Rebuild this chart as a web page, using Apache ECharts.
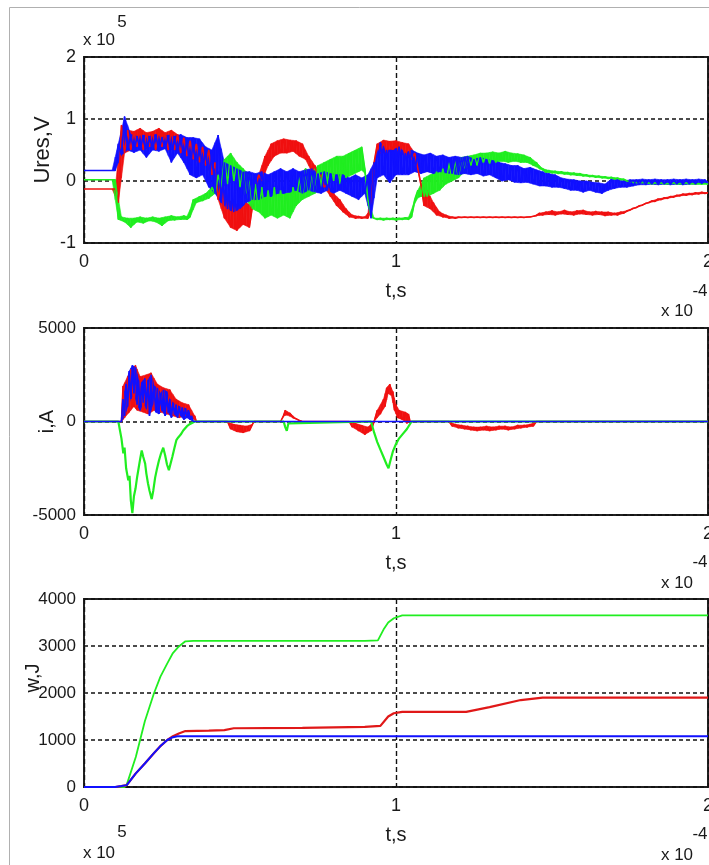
<!DOCTYPE html>
<html>
<head>
<meta charset="utf-8">
<script src="https://cdn.jsdelivr.net/npm/echarts@6/dist/echarts.min.js"></script>
<style>
html,body{margin:0;padding:0;background:#fff;}
#c{width:709px;height:865px;}
</style>
</head>
<body>
<div id="c"></div>
<script>
// ---- data (time in units of 1e-4 s) ----
const tStep = 0.01; // sampling step of the Ures traces
const xTickLabels = ['0', '1', '2'];
const uresTickLabels = ['-1', '0', '1', '2'];
const iTickLabels = ['-5000', '0', '5000'];
const wTickLabels = ['0', '1000', '2000', '3000', '4000'];

// Ures, x 1e5 V, sampled every tStep
const uresRed = [-0.13,-0.13,-0.13,-0.13,-0.13,-0.13,-0.13,-0.13,-0.13,-0.13,-0.13,
-0.35,0.9,0.45,0.82,0.5,0.8,0.55,0.85,0.5,0.78,
0.55,0.8,0.5,0.85,0.55,0.78,0.5,0.82,0.5,0.75,
0.45,0.7,0.4,0.65,0.35,0.6,0.3,0.55,0.25,0.5,
0.1,0.3,-0.3,0.0,-0.6,-0.3,-0.75,-0.35,-0.8,-0.4,
-0.7,-0.35,-0.75,-0.4,-0.1,0.1,0.0,0.4,0.25,0.6,
0.4,0.65,0.45,0.68,0.45,0.66,0.48,0.65,0.4,0.6,
0.35,0.4,0.15,0.25,0.05,0.1,-0.1,-0.05,-0.25,-0.2,
-0.4,-0.3,-0.5,-0.45,-0.58,-0.55,-0.6,-0.57,-0.6,-0.58,
-0.6,-0.45,0.3,0.6,0.45,0.66,0.45,0.64,0.5,0.65,
0.45,0.62,0.4,0.6,0.35,0.45,0.2,-0.05,-0.4,-0.15,
-0.45,-0.35,-0.55,-0.5,-0.58,-0.55,-0.6,-0.58,-0.6,-0.58,
-0.59,-0.58,-0.59,-0.58,-0.59,-0.58,-0.59,-0.58,-0.59,-0.58,
-0.59,-0.58,-0.59,-0.58,-0.59,-0.58,-0.59,-0.58,-0.59,-0.58,
-0.59,-0.58,-0.58,-0.57,-0.56,-0.52,-0.55,-0.5,-0.54,-0.48,
-0.55,-0.5,-0.53,-0.47,-0.54,-0.5,-0.55,-0.48,-0.53,-0.47,
-0.54,-0.5,-0.55,-0.49,-0.54,-0.5,-0.56,-0.5,-0.55,-0.52,
-0.55,-0.5,-0.52,-0.48,-0.47,-0.44,-0.43,-0.4,-0.39,-0.36,
-0.35,-0.32,-0.33,-0.29,-0.3,-0.27,-0.28,-0.25,-0.26,-0.23,
-0.24,-0.21,-0.23,-0.2,-0.22,-0.19,-0.21,-0.18,-0.2,-0.19];

const uresGreen = [0.02,0.02,0.02,0.02,0.02,0.02,0.02,0.02,0.02,0.02,0.02,
-0.62,-0.58,-0.66,-0.6,-0.75,-0.6,-0.66,-0.58,-0.68,-0.6,
-0.64,-0.58,-0.66,-0.6,-0.72,-0.58,-0.64,-0.56,-0.63,-0.58,
-0.62,-0.56,-0.62,-0.58,-0.3,-0.35,-0.25,-0.32,-0.2,-0.28,
-0.1,-0.2,0.1,-0.1,0.35,-0.05,0.45,0.0,0.3,-0.1,
0.2,-0.3,0.1,-0.45,-0.05,-0.5,-0.1,-0.6,-0.15,-0.55,
-0.1,-0.6,-0.15,-0.55,-0.2,-0.6,-0.1,-0.4,0.1,-0.3,
0.2,-0.25,0.15,-0.2,0.25,-0.1,0.3,-0.05,0.35,0.0,
0.4,-0.05,0.4,0.05,0.45,0.1,0.5,0.15,0.55,0.2,
-0.3,-0.58,-0.6,-0.62,-0.6,-0.63,-0.6,-0.62,-0.6,-0.63,
-0.6,-0.62,-0.59,-0.62,-0.58,-0.3,-0.15,-0.25,0.05,-0.25,
0.1,-0.2,0.15,-0.15,0.2,-0.05,0.3,0.0,0.35,0.05,
0.38,0.15,0.4,0.25,0.42,0.25,0.45,0.3,0.45,0.28,
0.47,0.3,0.45,0.32,0.48,0.3,0.45,0.32,0.44,0.3,
0.42,0.3,0.38,0.25,0.3,0.2,0.2,0.14,0.17,0.13,
0.16,0.12,0.15,0.11,0.14,0.1,0.13,0.09,0.12,0.08,
0.1,0.07,0.09,0.06,0.08,0.05,0.07,0.04,0.06,0.03,
0.05,0.02,0.03,0.0,-0.01,-0.03,-0.02,-0.04,-0.02,-0.04,
-0.03,-0.05,-0.03,-0.05,-0.03,-0.05,-0.04,-0.05,-0.03,-0.05,
-0.04,-0.05,-0.03,-0.05,-0.04,-0.05,-0.04,-0.05,-0.04,-0.05];

const uresBlue = [0.17,0.17,0.17,0.17,0.17,0.17,0.17,0.17,0.17,0.17,0.17,
0.6,0.42,1.04,0.5,0.75,0.46,0.72,0.5,0.74,0.38,
0.72,0.5,0.75,0.48,0.7,0.52,0.74,0.3,0.72,0.45,
0.75,0.3,0.7,0.1,0.7,0.05,0.68,0.1,0.55,-0.1,
0.5,-0.2,0.74,-0.35,0.3,-0.45,0.25,-0.5,0.2,-0.45,
0.15,-0.35,0.15,-0.3,0.12,-0.3,0.15,-0.25,0.1,-0.25,
0.15,-0.2,0.2,-0.2,0.15,-0.18,0.2,-0.15,0.15,-0.2,
0.18,-0.15,0.2,-0.18,0.12,-0.2,0.15,-0.15,0.12,-0.2,
0.1,-0.15,0.1,-0.2,0.05,-0.25,0.1,-0.3,0.05,-0.2,
0.1,-0.6,0.3,0.05,0.62,0.1,0.5,-0.03,0.5,0.1,
0.55,0.1,0.45,0.1,0.5,0.15,0.45,0.12,0.42,0.15,
0.45,0.12,0.4,0.15,0.42,0.13,0.38,0.12,0.4,0.1,
0.38,0.12,0.4,0.1,0.35,0.12,0.38,0.08,0.35,0.1,
0.33,0.05,0.3,0.0,0.28,0.02,0.25,-0.02,0.25,-0.03,
0.2,-0.02,0.22,-0.05,0.18,-0.08,0.15,-0.08,0.12,-0.1,
0.1,-0.1,0.05,-0.12,0.03,-0.15,0.02,-0.15,0.0,-0.18,
0.0,-0.15,-0.02,-0.18,-0.03,-0.2,-0.05,-0.15,0.03,-0.12,
0.02,-0.1,0.0,-0.1,0.02,-0.08,0.02,-0.06,0.03,-0.06,
0.02,-0.05,0.03,-0.06,0.02,-0.05,0.02,-0.06,0.03,-0.05,
0.02,-0.06,0.03,-0.05,0.02,-0.05,0.03,-0.04,0.02,-0.03];

// current i, A : [t, value]
const iRed = [[0,0],[0.12,0],[0.125,1900],[0.13,200],[0.14,2400],[0.145,500],[0.15,2800],[0.16,800],[0.165,3000],[0.17,600],[0.18,2400],[0.19,500],[0.2,2500],[0.205,400],[0.215,2600],[0.225,600],[0.235,2000],[0.245,500],[0.255,1800],[0.265,400],[0.275,1700],[0.285,300],[0.295,1200],[0.305,200],[0.315,1000],[0.325,300],[0.335,900],[0.345,200],[0.355,300],[0.36,0],
[0.46,0],[0.47,-400],[0.48,-150],[0.49,-550],[0.5,-200],[0.51,-600],[0.52,-250],[0.53,-500],[0.54,-150],[0.545,0],
[0.63,0],[0.64,300],[0.645,600],[0.65,350],[0.66,450],[0.67,200],[0.68,150],[0.69,50],[0.7,0],
[0.85,0],[0.86,-300],[0.87,-100],[0.88,-500],[0.89,-200],[0.9,-700],[0.91,-300],[0.92,-500],[0.93,0],[0.94,600],[0.95,400],[0.96,1200],[0.965,800],[0.97,1800],[0.975,1500],[0.98,2000],[0.985,1400],[0.99,1600],[0.995,600],[1.0,900],[1.005,200],[1.01,600],[1.02,100],[1.03,500],[1.035,-100],[1.04,400],[1.045,0],
[1.17,0],[1.18,-250],[1.19,-150],[1.2,-350],[1.21,-200],[1.22,-400],[1.23,-250],[1.24,-450],[1.25,-300],[1.26,-500],[1.27,-300],[1.28,-450],[1.29,-250],[1.3,-500],[1.31,-300],[1.32,-450],[1.33,-250],[1.34,-400],[1.35,-250],[1.36,-450],[1.37,-300],[1.38,-400],[1.39,-200],[1.4,-350],[1.41,-200],[1.42,-300],[1.43,-150],[1.44,-250],[1.45,0],[2,0]];

const iGreen = [[0,0],[0.11,0],[0.12,-900],[0.126,-1700],[0.13,-1400],[0.135,-2500],[0.142,-3150],[0.146,-2900],[0.15,-4200],[0.155,-4900],[0.16,-4000],[0.165,-3600],[0.17,-3000],[0.175,-2500],[0.18,-2000],[0.185,-1550],[0.19,-1900],[0.196,-2250],[0.2,-2800],[0.205,-3300],[0.21,-3700],[0.217,-4150],[0.222,-3700],[0.228,-3000],[0.233,-2600],[0.24,-2100],[0.247,-1700],[0.254,-1400],[0.26,-1800],[0.266,-2300],[0.272,-2600],[0.276,-2500],[0.283,-1900],[0.29,-1400],[0.296,-1000],[0.302,-850],[0.31,-700],[0.318,-480],[0.33,-250],[0.34,-130],[0.355,0],
[0.64,0],[0.645,-300],[0.65,-500],[0.655,-100],[0.66,0],
[0.92,0],[0.93,-600],[0.94,-1100],[0.95,-1500],[0.96,-1900],[0.97,-2300],[0.976,-2500],[0.982,-2100],[0.99,-1600],[1.0,-1200],[1.01,-900],[1.02,-700],[1.025,-650],[1.035,-400],[1.05,0],[2,0]];

const iBlue = [[0,0],[0.12,0],[0.125,1200],[0.13,300],[0.135,2000],[0.14,800],[0.145,2700],[0.15,1200],[0.155,3000],[0.16,1500],[0.165,2900],[0.17,900],[0.175,2200],[0.18,600],[0.185,2100],[0.19,1000],[0.195,2300],[0.2,700],[0.205,2200],[0.21,300],[0.215,2500],[0.22,900],[0.225,1900],[0.23,500],[0.235,1800],[0.24,400],[0.245,1500],[0.25,600],[0.255,1700],[0.26,300],[0.265,1600],[0.27,500],[0.275,1200],[0.28,200],[0.285,1000],[0.29,400],[0.295,900],[0.3,200],[0.305,800],[0.31,300],[0.315,750],[0.32,100],[0.325,700],[0.33,200],[0.335,600],[0.34,100],[0.345,300],[0.35,0],[2,0]];

// energy w, J : [t, value]
const wGreen = [[0,0],[0.13,0],[0.137,50],[0.166,640],[0.195,1400],[0.224,1990],[0.245,2350],[0.267,2630],[0.285,2850],[0.304,2990],[0.325,3100],[0.35,3110],[0.6,3110],[0.9,3110],[0.942,3120],[0.96,3350],[0.975,3500],[0.993,3590],[1.02,3650],[2,3650]];
const wRed = [[0,0],[0.1,0],[0.12,20],[0.137,40],[0.166,290],[0.195,500],[0.224,720],[0.245,870],[0.267,1000],[0.285,1080],[0.304,1140],[0.325,1190],[0.4,1200],[0.45,1210],[0.48,1250],[0.7,1260],[0.9,1280],[0.95,1300],[0.975,1500],[0.993,1570],[1.02,1600],[1.225,1600],[1.3,1700],[1.4,1850],[1.47,1900],[2,1900]];
const wBlue = [[0,0],[0.1,0],[0.12,20],[0.137,40],[0.166,290],[0.195,500],[0.224,720],[0.245,870],[0.267,1000],[0.285,1060],[0.3,1080],[0.4,1080],[2,1080]];

// ---- chart ----
const FONT = "'Liberation Sans',Arial,Helvetica,sans-serif";
const TXT = '#1a1a1a';
const RED = '#f01010', GREEN = '#20ee20', BLUE = '#1010ff';

function sampled(vals){ return vals.map((v,i)=>[Math.round(i*tStep*100)/100, v]); }

// segments [t0, lo0, hi0, t1, lo1, hi1] filling between peaks and troughs of a dense noisy trace
function noiseBand(data){
  const pts = [];
  for (let i = 0; i < data.length; i++){
    const t = data[i][0], v = data[i][1];
    let mid = v;
    const p = data[i-1], n = data[i+1];
    if (p && n && t - p[0] < 0.012 && n[0] - t < 0.012){
      mid = p[1] + (n[1]-p[1]) * (t - p[0]) / (n[0] - p[0]);
    }
    pts.push([t, Math.min(v, mid), Math.max(v, mid)]);
  }
  const segs = [];
  for (let i = 0; i + 1 < pts.length; i++){
    const a = pts[i], b = pts[i+1];
    if (b[0] - a[0] > 0.012) continue;
    if (a[2] - a[1] < 1e-9 && b[2] - b[1] < 1e-9) continue;
    segs.push([a[0], a[1], a[2], b[0], b[1], b[2]]);
  }
  return segs;
}

const gridDefs = [
  {left:84, top:57, width:624, height:186},
  {left:84, top:328, width:624, height:187},
  {left:84, top:599, width:624, height:188}
];
const yDefs = [
  {min:-1, max:2, interval:1, labels:uresTickLabels, name:'Ures,V', nameSize:22, nameGap:30, pad:0},
  {min:-5000, max:5000, interval:5000, labels:iTickLabels, name:'i,A', nameSize:20, nameGap:27, pad:0},
  {min:0, max:4000, interval:1000, labels:wTickLabels, name:'w,J', nameSize:20, nameGap:41, pad:30}
];

const grid = gridDefs.map(g=>Object.assign({show:true, borderColor:'#222', borderWidth:2, backgroundColor:'#fff',
  containLabel:false, outerBoundsMode:'none'}, g));

const xAxis = gridDefs.map((g,k)=>({
  type:'value', gridIndex:k, min:0, max:2, interval:1,
  name:'t,s', nameLocation:'middle', nameGap:38, nameMoveOverlap:false,
  nameTextStyle:{fontFamily:FONT, fontSize:20, color:TXT},
  axisLine:{show:false}, axisTick:{show:false},
  axisLabel:{fontFamily:FONT, fontSize:18, color:TXT, margin:10, showMinLabel:true, showMaxLabel:true, hideOverlap:false,
    formatter:(v)=>xTickLabels[Math.round(v)]},
  splitLine:{show:true, lineStyle:{color:'#111', type:[5,3], width:1.4}}
}));

const yAxis = yDefs.map((d,k)=>({
  type:'value', gridIndex:k, min:d.min, max:d.max, interval:d.interval,
  name:d.name, nameLocation:'middle', nameGap:d.nameGap, nameRotate:90, nameMoveOverlap:false,
  nameTextStyle:{fontFamily:FONT, fontSize:d.nameSize, color:TXT, padding:[0,0,0,d.pad]},
  axisLine:{show:false}, axisTick:{show:false},
  axisLabel:{fontFamily:FONT, fontSize:k===0?18:17, color:TXT, margin:8, hideOverlap:false,
    formatter:(v)=>d.labels[Math.round((v-d.min)/d.interval)]},
  splitLine:{show:true, lineStyle:{color:'#111', type:[4,3], width:1.6}}
}));

function line(k, data, color, width){
  return {type:'line', xAxisIndex:k, yAxisIndex:k, data:data, showSymbol:false, symbol:'none',
    lineStyle:{color:color, width:width}, itemStyle:{color:color}, animation:false, silent:true, z:3};
}
function band(k, data, color){
  return {type:'custom', xAxisIndex:k, yAxisIndex:k, data:noiseBand(data), animation:false, silent:true, z:3,
    encode:{x:[0,3], y:[1,2,4,5]}, clip:true,
    renderItem:function(params, api){
      const pts = [api.coord([api.value(0), api.value(1)]), api.coord([api.value(3), api.value(4)]),
                   api.coord([api.value(3), api.value(5)]), api.coord([api.value(0), api.value(2)])];
      return {type:'polygon', shape:{points:pts}, style:{fill:color, stroke:color, lineWidth:0.6}};
    }};
}

const uR = sampled(uresRed), uG = sampled(uresGreen), uB = sampled(uresBlue);
const series = [
  band(0, uR, RED), line(0, uR, RED, 1.6),
  band(0, uG, GREEN), line(0, uG, GREEN, 1.6),
  band(0, uB, BLUE), line(0, uB, BLUE, 1.6),
  band(1, iRed, RED), line(1, iRed, RED, 1.5),
  line(1, iGreen, GREEN, 2.2),
  band(1, iBlue, BLUE), line(1, iBlue, BLUE, 1.6),
  line(2, wGreen, GREEN, 1.8),
  line(2, wRed, '#e01818', 2.2),
  line(2, wBlue, BLUE, 2)
];

function txt(x, y, s, size){
  return {type:'text', x:x, y:y, silent:true,
    style:{text:s, fontFamily:FONT, fontSize:size, fill:TXT, align:'center', verticalAlign:'middle'}};
}
const graphic = [
  {type:'line', silent:true, shape:{x1:9.5, y1:7.5, x2:709, y2:7.5}, style:{stroke:'#b0b0b0', lineWidth:1}},
  {type:'line', silent:true, shape:{x1:9.5, y1:7.5, x2:9.5, y2:865}, style:{stroke:'#b0b0b0', lineWidth:1}},
  txt(99, 40, 'x 10', 17), txt(122, 22, '5', 17),
  txt(700, 291, '-4', 17), txt(677, 311, 'x 10', 17),
  txt(700, 562, '-4', 17), txt(677, 583, 'x 10', 17),
  txt(700, 834, '-4', 17), txt(677, 855, 'x 10', 17),
  txt(122, 832, '5', 17), txt(99, 853, 'x 10', 17), txt(72, 873, '2', 18)
];

const chart = echarts.init(document.getElementById('c'), null, {renderer:'canvas'});
chart.setOption({animation:false, backgroundColor:'#fff', grid, xAxis, yAxis, series, graphic});
</script>
</body>
</html>
